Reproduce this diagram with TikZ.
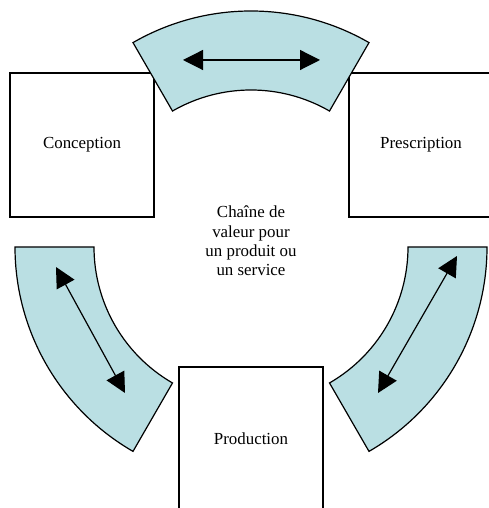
\documentclass[tikz,border=0pt]{standalone}
\usepackage{fontspec}
\setmainfont{Liberation Serif}
\usetikzlibrary{arrows.meta}
\definecolor{bandblue}{RGB}{186,223,227}
\tikzset{
  box/.style={draw, line width=1.2pt, minimum width=144pt, minimum height=144pt, inner sep=0pt},
  band/.style={draw, line width=1.2pt, fill=bandblue, line join=miter},
  link/.style={line width=1.2pt, {Triangle[length=20pt,width=20pt]}-{Triangle[length=20pt,width=20pt]}}
}
\begin{document}
\begin{tikzpicture}[x=1pt,y=1pt,font=\fontsize{16.9}{19.3}\selectfont]
\useasboundingbox (0,0) rectangle (488,508);
%\draw [help lines] (0,0) grid (488,508);
\coordinate (O) at (251,261);

% boxes
\node[box] (P0) at (82,363) {Conception};
\node[box] (P1) at (421,363) {Prescription};
\node[box] (P2) at (251,69) {Production};
\node[align=center] (P3) at (251,267) {Cha\^ine de\\valeur pour\\un produit ou\\un service};

% bands
\draw[band] ([shift={(60:157)}]O) arc[start angle=60, end angle=120, radius=157]
  -- ([shift={(120:236)}]O) arc[start angle=120, end angle=60, radius=236] -- cycle;
\draw[band] ([shift={(180:157)}]O) arc[start angle=180, end angle=240, radius=157]
  -- ([shift={(240:236)}]O) arc[start angle=240, end angle=180, radius=236] -- cycle;
\draw[band] ([shift={(300:157)}]O) arc[start angle=300, end angle=360, radius=157]
  -- ([shift={(360:236)}]O) arc[start angle=360, end angle=300, radius=236] -- cycle;

% arrow ends
\coordinate (A0) at (183,448);
\coordinate (A1) at (320,448);
\coordinate (B0) at (56,241);
\coordinate (B1) at (125,115);
\coordinate (C0) at (457,252);
\coordinate (C1) at (378,115);

% conception to prescription
\draw[link] (A0) -- (A1);
% conception to production
\draw[link] (B0) -- (B1);
% prescription to production
\draw[link] (C0) -- (C1);
\end{tikzpicture}
\end{document}
